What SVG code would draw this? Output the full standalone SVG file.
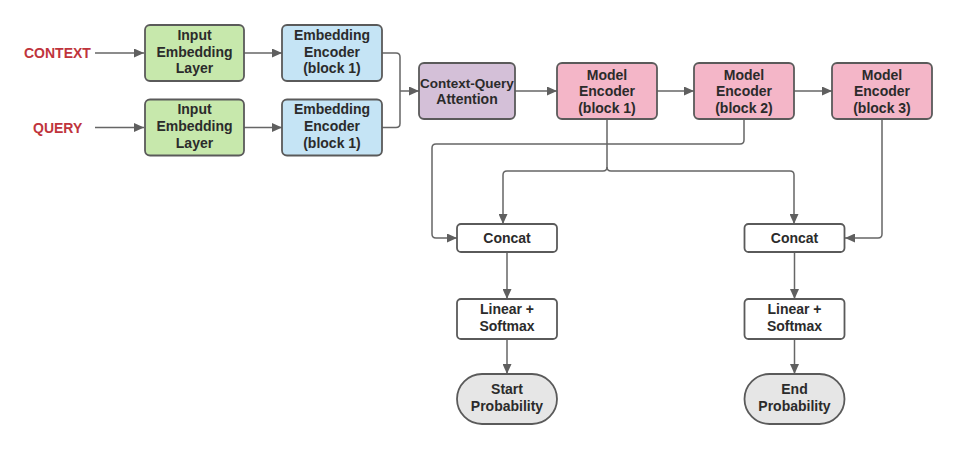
<svg xmlns="http://www.w3.org/2000/svg" width="958" height="450" viewBox="0 0 958 450">
<defs>
<marker id="ah" markerUnits="userSpaceOnUse" markerWidth="11" markerHeight="9" refX="10" refY="4.5" orient="auto">
<path d="M0,0 L10,4.5 L0,9 z" fill="#5f5f5f"/>
</marker>
</defs>
<style>
.box{stroke:#5a5a5a;stroke-width:1.8}
.green{fill:#c7e8ac}
.blue{fill:#c5e4f5}
.purple{fill:#d4c0d8}
.pink{fill:#f4b6c8}
.white{fill:#ffffff}
.grey{fill:#e6e6e6}
text{font-family:"Liberation Sans",Arial,sans-serif;font-weight:bold;font-size:14px;fill:#2b2b2b;text-anchor:middle}
.lbl{fill:#c0343c;text-anchor:start}
.c{fill:none;stroke:#666;stroke-width:1.5}
.a{marker-end:url(#ah)}
</style>
<rect width="958" height="450" fill="#ffffff"/>
<g id="connectors">
<path class="c a" d="M95,53 H144"/>
<path class="c a" d="M95,127.5 H144"/>
<path class="c a" d="M244,53 H282"/>
<path class="c a" d="M244,127.5 H282"/>
<path class="c" d="M382,53 H396 Q400,53 400,57 V91"/>
<path class="c" d="M382,127.5 H396 Q400,127.5 400,123.5 V91"/>
<path class="c a" d="M400,91 H419"/>
<path class="c a" d="M515,91 H557"/>
<path class="c a" d="M657,91 H694"/>
<path class="c a" d="M794,91 H832"/>
<path class="c a" d="M607,120 V167 Q607,171 603,171 H507 Q503,171 503,175 V224"/>
<path class="c a" d="M607,167 Q607,171 611,171 H790 Q794,171 794,175 V224"/>
<path class="c a" d="M744,120 V140 Q744,144 740,144 H436 Q432,144 432,148 V234 Q432,238 436,238 H457"/>
<path class="c a" d="M882,120 V234 Q882,238 878,238 H845"/>
<path class="c a" d="M507,252 V299"/>
<path class="c a" d="M507,339 V374"/>
<path class="c a" d="M794.5,252 V299"/>
<path class="c a" d="M794.5,339 V374"/>
</g>
<g id="context-label"><text class="lbl" x="24" y="58">CONTEXT</text></g>
<g id="query-label"><text class="lbl" x="33" y="132.5">QUERY</text></g>
<g id="input-embedding-1">
<rect class="box green" x="145" y="25" width="99" height="56" rx="5"/>
<text x="194.5" y="39.8">Input</text><text x="194.5" y="56.5">Embedding</text><text x="194.5" y="73.2">Layer</text>
</g>
<g id="embedding-encoder-1">
<rect class="box blue" x="282" y="25" width="100" height="56" rx="5"/>
<text x="332" y="39.8">Embedding</text><text x="332" y="56.5">Encoder</text><text x="332" y="73.2">(block 1)</text>
</g>
<g id="input-embedding-2">
<rect class="box green" x="145" y="99.5" width="99" height="56" rx="5"/>
<text x="194.5" y="114.3">Input</text><text x="194.5" y="131">Embedding</text><text x="194.5" y="147.7">Layer</text>
</g>
<g id="embedding-encoder-2">
<rect class="box blue" x="282" y="99.5" width="100" height="56" rx="5"/>
<text x="332" y="114.3">Embedding</text><text x="332" y="131">Encoder</text><text x="332" y="147.7">(block 1)</text>
</g>
<g id="context-query-attention">
<rect class="box purple" x="419" y="63" width="96" height="56" rx="5"/>
<text x="467" y="87.5" style="font-size:13.5px">Context-Query</text><text x="467" y="104">Attention</text>
</g>
<g id="model-encoder-1">
<rect class="box pink" x="557" y="63" width="100" height="56" rx="5"/>
<text x="607" y="79.5">Model</text><text x="607" y="96.3">Encoder</text><text x="607" y="113">(block 1)</text>
</g>
<g id="model-encoder-2">
<rect class="box pink" x="694" y="63" width="100" height="56" rx="5"/>
<text x="744" y="79.5">Model</text><text x="744" y="96.3">Encoder</text><text x="744" y="113">(block 2)</text>
</g>
<g id="model-encoder-3">
<rect class="box pink" x="832" y="63" width="100" height="56" rx="5"/>
<text x="882" y="79.5">Model</text><text x="882" y="96.3">Encoder</text><text x="882" y="113">(block 3)</text>
</g>
<g id="concat-1">
<rect class="box white" x="457" y="224" width="100" height="28" rx="4"/>
<text x="507" y="242.5">Concat</text>
</g>
<g id="concat-2">
<rect class="box white" x="744.5" y="224" width="100" height="28" rx="4"/>
<text x="794.5" y="242.5">Concat</text>
</g>
<g id="linear-softmax-1">
<rect class="box white" x="457" y="299" width="100" height="40" rx="4"/>
<text x="507" y="314">Linear +</text><text x="507" y="330.5">Softmax</text>
</g>
<g id="linear-softmax-2">
<rect class="box white" x="744.5" y="299" width="100" height="40" rx="4"/>
<text x="794.5" y="314">Linear +</text><text x="794.5" y="330.5">Softmax</text>
</g>
<g id="start-probability">
<rect class="box grey" x="457" y="374" width="100" height="50" rx="25"/>
<text x="507" y="394">Start</text><text x="507" y="410.5">Probability</text>
</g>
<g id="end-probability">
<rect class="box grey" x="744.5" y="374" width="100" height="50" rx="25"/>
<text x="794.5" y="394">End</text><text x="794.5" y="410.5">Probability</text>
</g>
</svg>
